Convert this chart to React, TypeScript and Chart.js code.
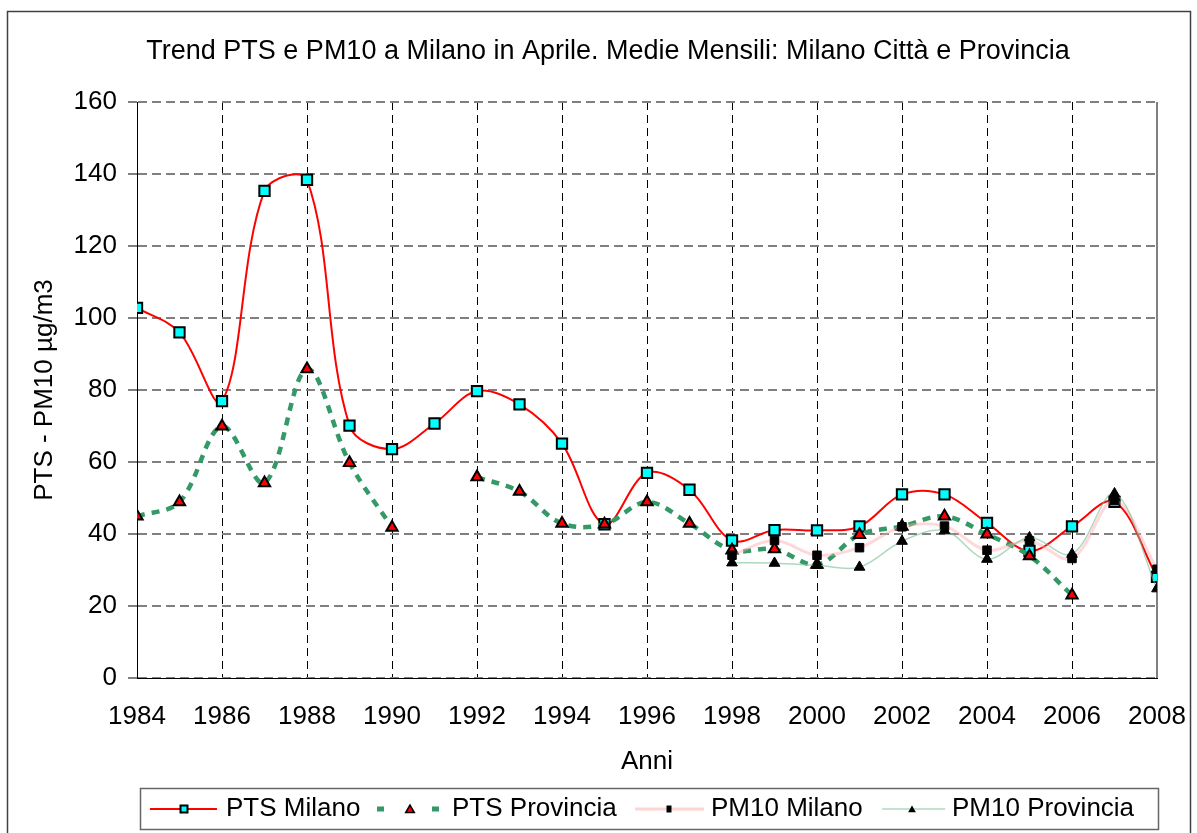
import React, { useEffect, useRef } from 'react';
import { Chart, registerables } from 'chart.js';

Chart.register(...registerables);

// ---- data ----
const years = [1984, 1985, 1986, 1987, 1988, 1989, 1990, 1991, 1992, 1993, 1994, 1995, 1996, 1997, 1998, 1999, 2000, 2001, 2002, 2003, 2004, 2005, 2006, 2007, 2008];
const ptsMilano = [102.8, 96.0, 76.9, 135.3, 138.4, 70.1, 63.6, 70.7, 79.7, 76.0, 65.1, 42.7, 57.0, 52.3, 38.2, 41.1, 41.0, 42.1, 51.0, 51.0, 43.1, 35.3, 42.1, 48.9, 28.1];
const ptsProvincia = [44.9, 48.9, 69.9, 54.2, 85.8, 59.8, 41.8, null, 55.8, 51.8, 42.9, 42.7, 48.9, 42.9, 35.5, 35.8, 31.5, 39.8, 42.1, 44.9, 39.9, 33.9, 23.0, null, null];
const pm10Years = [1998, 1999, 2000, 2001, 2002, 2003, 2004, 2005, 2006, 2007, 2008];
const pm10Milano = [34.1, 38.2, 34.1, 36.2, 42.0, 42.2, 35.5, 38.1, 33.2, 49.3, 30.2];
const pm10Provincia = [32.0, 31.9, 31.3, 30.8, 38.0, 40.9, 33.0, 39.0, 34.4, 51.2, 24.8];
const xTickValues = [1984, 1986, 1988, 1990, 1992, 1994, 1996, 1998, 2000, 2002, 2004, 2006, 2008];
const yTickValues = [0, 20, 40, 60, 80, 100, 120, 140, 160];
const seriesNames = ['PTS Milano', 'PTS Provincia', 'PM10 Milano', 'PM10 Provincia'];
const chartTitle = 'Trend PTS e PM10 a Milano in Aprile. Medie Mensili: Milano Città e Provincia';
const xTitle = 'Anni';
const yTitle = 'PTS - PM10 µg/m3';

const FONT = '"Liberation Sans", Arial, sans-serif';

const toPoints = (xs: number[], ys: (number | null)[]) => xs.map((x, i) => ({ x, y: ys[i] }));

const decor = {
  id: 'decor',
  beforeDraw(chart: any) {
    const ctx = chart.ctx;
    ctx.save();
    ctx.fillStyle = '#ffffff';
    ctx.fillRect(0, 0, chart.width, chart.height);
    ctx.restore();
  },
  beforeDatasetsDraw(chart: any) {
    const { ctx, chartArea } = chart;
    ctx.save();
    ctx.strokeStyle = '#808080';
    ctx.lineWidth = 2;
    ctx.beginPath();
    ctx.moveTo(chartArea.right, chartArea.top);
    ctx.lineTo(chartArea.right, chartArea.bottom);
    ctx.stroke();
    ctx.strokeStyle = '#000';
    ctx.lineWidth = 1;
    ctx.beginPath();
    ctx.moveTo(Math.round(chartArea.left) + 0.5, chartArea.top);
    ctx.lineTo(Math.round(chartArea.left) + 0.5, chartArea.bottom);
    ctx.stroke();
    ctx.restore();
  },
  afterDraw(chart: any) {
    const ctx = chart.ctx;
    ctx.save();
    // outer frame
    ctx.strokeStyle = '#404040';
    ctx.lineWidth = 1.5;
    ctx.strokeRect(7.5, 11.5, 1183, 840);
    // title
    ctx.fillStyle = '#000';
    ctx.font = `27px ${FONT}`;
    ctx.textAlign = 'center';
    ctx.textBaseline = 'middle';
    ctx.fillText(chartTitle, 608, 52);

    // legend
    const ly = 809;
    ctx.strokeStyle = '#666';
    ctx.lineWidth = 1.5;
    ctx.strokeRect(140.5, 788.5, 1018, 41);
    ctx.font = `26px ${FONT}`;
    ctx.textAlign = 'left';

    const drawSquare = (cx: number, cy: number, w: number, h: number, fill: string, bw: number) => {
      ctx.fillStyle = fill;
      ctx.fillRect(cx - w / 2, cy - h / 2, w, h);
      if (bw > 0) {
        ctx.strokeStyle = '#000';
        ctx.lineWidth = bw;
        ctx.strokeRect(cx - w / 2, cy - h / 2, w, h);
      }
    };
    const drawTri = (cx: number, cy: number, r: number, fill: string, bw: number) => {
      ctx.beginPath();
      ctx.moveTo(cx, cy - r);
      ctx.lineTo(cx + 0.866 * r, cy + 0.5 * r);
      ctx.lineTo(cx - 0.866 * r, cy + 0.5 * r);
      ctx.closePath();
      ctx.fillStyle = fill;
      ctx.fill();
      if (bw > 0) {
        ctx.strokeStyle = '#000';
        ctx.lineWidth = bw;
        ctx.stroke();
      }
    };
    const line = (x1: number, x2: number, color: string, w: number, dash: number[]) => {
      ctx.save();
      ctx.strokeStyle = color;
      ctx.lineWidth = w;
      ctx.setLineDash(dash);
      ctx.beginPath();
      ctx.moveTo(x1, ly);
      ctx.lineTo(x2, ly);
      ctx.stroke();
      ctx.restore();
    };

    // 1 PTS Milano
    line(150, 217, '#FF0000', 2, []);
    drawSquare(184, ly, 7, 7, '#00FFFF', 2);
    ctx.fillStyle = '#000';
    ctx.fillText(seriesNames[0], 226, ly);
    // 2 PTS Provincia
    line(377, 440, '#339966', 5, [7, 48]);
    drawTri(410, ly + 1, 5, '#FF0000', 1.5);
    ctx.fillStyle = '#000';
    ctx.fillText(seriesNames[1], 452, ly);
    // 3 PM10 Milano
    line(635, 704, 'rgba(255,170,170,0.5)', 3, []);
    drawSquare(669, ly, 5, 7, '#000', 0);
    ctx.fillStyle = '#000';
    ctx.fillText(seriesNames[2], 711, ly);
    // 4 PM10 Provincia
    line(882, 945, 'rgba(120,190,150,0.6)', 1.5, []);
    drawTri(912, ly + 1, 4.5, '#000', 0);
    ctx.fillStyle = '#000';
    ctx.fillText(seriesNames[3], 952, ly);

    ctx.restore();
  },
};

export default function App() {
  const ref = useRef<HTMLCanvasElement | null>(null);

  useEffect(() => {
    if (!ref.current) return;
    const chart = new Chart(ref.current, {
      type: 'line',
      data: {
        datasets: [
          {
            label: seriesNames[0],
            data: toPoints(years, ptsMilano),
            borderColor: '#FF0000',
            borderWidth: 2,
            pointStyle: 'rect',
            pointRadius: 7.3,
            pointBackgroundColor: '#00FFFF',
            pointBorderColor: '#000',
            pointBorderWidth: 2,
            tension: 0.35,
            order: 4,
          },
          {
            label: seriesNames[1],
            data: toPoints(years, ptsProvincia),
            borderColor: '#339966',
            borderWidth: 4.5,
            borderDash: [8, 7],
            pointStyle: 'triangle',
            pointRadius: 6.5,
            pointBackgroundColor: '#FF0000',
            pointBorderColor: '#000',
            pointBorderWidth: 2,
            tension: 0.35,
            spanGaps: false,
            order: 3,
          },
          {
            label: seriesNames[2],
            data: toPoints(pm10Years, pm10Milano),
            borderColor: 'rgba(255,170,170,0.45)',
            borderWidth: 3,
            pointStyle: 'rect',
            pointRadius: 6,
            pointBackgroundColor: '#000',
            pointBorderColor: '#000',
            pointBorderWidth: 1,
            tension: 0.35,
            order: 2,
          },
          {
            label: seriesNames[3],
            data: toPoints(pm10Years, pm10Provincia),
            borderColor: 'rgba(120,190,150,0.6)',
            borderWidth: 1.5,
            pointStyle: 'triangle',
            pointRadius: 6.2,
            pointBackgroundColor: '#000',
            pointBorderColor: '#000',
            pointBorderWidth: 1,
            tension: 0.35,
            order: 1,
          },
        ],
      },
      options: {
        responsive: false,
        animation: false,
        events: [],
        layout: { padding: { left: 0, top: 102, right: 40, bottom: 0 } },
        plugins: {
          legend: { display: false },
          title: { display: false },
          tooltip: { enabled: false },
        },
        scales: {
          x: {
            type: 'linear',
            min: 1984,
            max: 2008,
            afterBuildTicks: (scale: any) => {
              scale.ticks = xTickValues.map((v) => ({ value: v }));
            },
            afterFit: (scale: any) => {
              scale.height = 155;
              scale.paddingLeft = 0;
              scale.paddingRight = 0;
            },
            ticks: {
              callback: (v: any) => String(v),
              color: '#000',
              font: { family: FONT, size: 26 },
              padding: 23,
              maxRotation: 0,
              autoSkip: false,
            },
            grid: {
              color: '#000',
              lineWidth: 1,
              drawTicks: false,
            },
            border: { color: '#000', width: 1, dash: [8, 5] },
            title: {
              display: true,
              text: xTitle,
              color: '#000',
              font: { family: FONT, size: 26 },
              padding: { top: 0, bottom: 56 },
            },
          },
          y: {
            type: 'linear',
            min: 0,
            max: 160,
            afterBuildTicks: (scale: any) => {
              scale.ticks = yTickValues.map((v) => ({ value: v }));
            },
            afterFit: (scale: any) => {
              scale.width = 137;
              scale.paddingTop = 0;
              scale.paddingBottom = 0;
            },
            ticks: {
              callback: (v: any) => String(v),
              color: '#000',
              font: { family: FONT, size: 26 },
              padding: 11,
            },
            grid: {
              color: '#808080',
              lineWidth: 2,
              drawTicks: true,
              tickLength: 9,
              tickColor: '#000',
              tickWidth: 1,
            },
            border: { color: '#000', width: 1, dash: [9, 5] },
            title: {
              display: true,
              text: yTitle,
              color: '#000',
              font: { family: FONT, size: 26 },
              padding: { top: 29, bottom: 0 },
            },
          },
        },
      },
      plugins: [decor],
    } as any);
    return () => chart.destroy();
  }, []);

  return (
    <div style={{ position: 'absolute', left: 0, top: 0, width: 1197, height: 833, background: '#fff' }}>
      <canvas ref={ref} width={1197} height={833} style={{ display: 'block' }} />
    </div>
  );
}
